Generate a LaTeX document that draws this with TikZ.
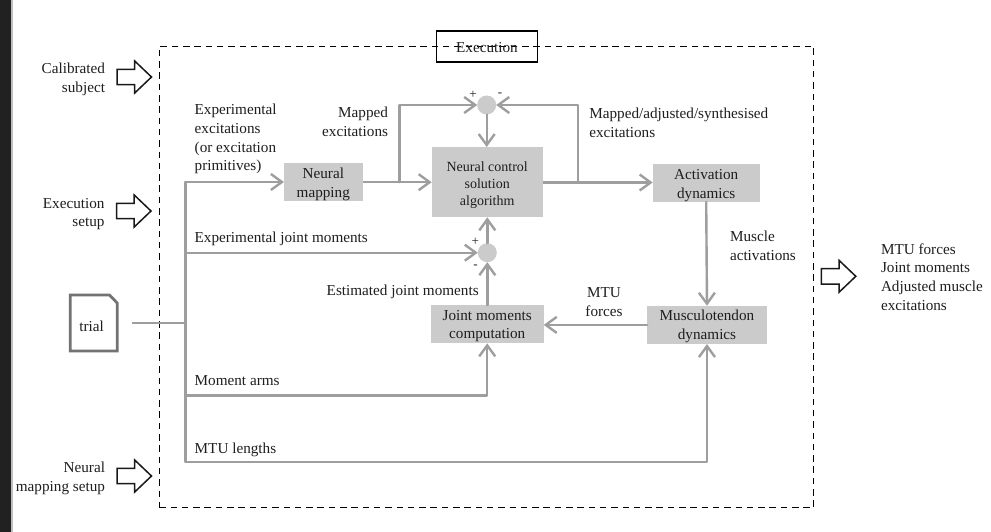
\documentclass[tikz,border=0pt]{standalone}
\usepackage{fontspec}
\setmainfont{Liberation Serif}
\usetikzlibrary{arrows.meta}
\definecolor{flow}{HTML}{9E9E9E}
\definecolor{boxfill}{HTML}{CBCBCB}
\definecolor{txt}{HTML}{1E1E1E}
\tikzset{
  x=1pt,y=-1pt,
  every node/.style={text=txt,inner sep=0pt,outer sep=0pt},
  lbl/.style={font=\fontsize{15.2}{18.8}\selectfont},
  lblL/.style={lbl,align=left,anchor=west},
  lblR/.style={lbl,align=right,anchor=east},
  lblC/.style={lbl,align=center},
  block/.style={fill=boxfill,lbl,align=center,minimum width=#1},
  blocktext/.style={lbl,align=center},
  sumdot/.style={circle,fill=boxfill,minimum size=19pt},
  sign/.style={font=\fontsize{13}{13}\selectfont},
  flowline/.style={draw=flow,line width=2.4pt,line cap=round,line join=round},
  flowarrow/.style={flowline,-{Straight Barb[length=11pt,width=16pt,line width=2.4pt]}},
  hollow/.style={draw=black!90,line width=1.5pt,fill=white,line join=miter},
}
\newcommand{\hollowarrow}[2]{%
  \draw[hollow] (#1,#2-7.7) -- ++(17.7,0) -- ++(0,-8.3) -- ++(16.8,16) -- ++(-16.8,16) -- ++(0,-8.3) -- ++(-17.7,0) -- cycle;}
\begin{document}
\begin{tikzpicture}
\useasboundingbox (0,0) rectangle (991,532);
\fill[white] (0,0) rectangle (991,532);
\fill[black!87] (0,0) rectangle (11,532);
\fill[black!25] (11,0) rectangle (12.5,532);

% dashed frame and title
\node[draw=black,line width=1.25pt,dash pattern=on 6.5pt off 4.8pt,minimum width=654.5pt,minimum height=461.5pt] (frame) at (486.5,277) {};
\node[draw=black,line width=1.4pt,minimum width=101pt,minimum height=31pt] (title) at (487,46.5) {};
\node[lbl] (titletext) at (487,47.5) {Execution};

% blocks
\node[block=78.7pt,minimum height=38pt] (nm) at (323.3,182.3) {};
\node[blocktext] (nmt) at (323.3,184) {Neural\\mapping};
\node[block=111pt,minimum height=70.3pt] (nc) at (487.2,182.2) {};
\node[align=center,font=\fontsize{14}{17}\selectfont] (nct) at (487.2,185) {Neural control\\solution\\algorithm};
\node[block=107pt,minimum height=38pt] (ad) at (706.2,183) {};
\node[blocktext] (adt) at (706.2,185.5) {Activation\\dynamics};
\node[block=113pt,minimum height=38.3pt] (jm) at (487.2,324.2) {};
\node[blocktext] (jmt) at (487.2,326) {Joint moments\\computation};
\node[block=119.4pt,minimum height=38.3pt] (md) at (707,324.9) {};
\node[blocktext] (mdt) at (707,326.7) {Musculotendon\\dynamics};
\node[sumdot] (s1) at (486.7,105) {};
\node[sumdot] (s2) at (487.3,252.7) {};

% trial document
\node[minimum width=47pt,minimum height=56pt] (trial) at (93.7,323) {};
\draw[draw=black!55,line width=2.8pt,line join=miter] (trial.north west) -- (109.5,295) -- (trial.east |- 0,303) -- (trial.south east) -- (trial.south west) -- cycle;
\node[lbl] (trialtext) at (91.7,326) {trial};

% junctions
\coordinate (bustop) at (185.5,182);
\coordinate (busjm) at (185.5,252.7);
\coordinate (bustrial) at (185.5,322.7);
\coordinate (busma) at (185.5,395.5);
\coordinate (busbot) at (185.5,461.7);
\coordinate (trialout) at (131.7,322.7);
\coordinate (b1) at (399.3,182.2);
\coordinate (b2) at (578,182.5);

% connectors
\draw[draw=flow,line width=1.7pt] (trialout) -- (bustrial);
\draw[flowline] (bustop) -- (busbot);
\draw[flowarrow] (bustop) -- (nm.west |- bustop);
\draw[flowarrow] (busjm) -- (s2.west);
\draw[flowarrow] (busma) -| (jm.south);
\draw[flowarrow] (busbot) -| (md.south);
\draw[flowline,line cap=butt] (nm.east |- b1) -- (b1);
\draw[flowarrow] (b1) -- (nc.west |- b1);
\draw[flowarrow] (b1) |- (s1.west);
\draw[flowline,line cap=butt] (nc.east |- b2) -- (b2);
\draw[flowarrow] (b2) -- (ad.west |- b2);
\draw[flowarrow] (b2) |- (s1.east);
\draw[flowarrow] (s1.south) -- (nc.north -| s1.south);
\draw[flowarrow] (s2.north) -- (nc.south -| s2.north);
\draw[flowarrow] (jm.north -| s2.south) -- (s2.south);
\draw[flowarrow] (ad.south) -- (md.north);
\draw[flowarrow] (md.west) -- (jm.east |- md.west);

% hollow arrows
\hollowarrow{117}{77}
\hollowarrow{116.5}{211}
\hollowarrow{117}{476}
\hollowarrow{821.3}{276.3}

% labels
\node[lblR] (l1) at (105,79) {Calibrated\\subject};
\node[lblR] (l2) at (104.5,214) {Execution\\setup};
\node[lblR] (l3) at (105,478.5) {Neural\\mapping setup};
\node[lblL] (l4) at (194.7,139) {Experimental\\excitations\\(or excitation\\primitives)};
\node[lblR] (l5) at (388,121.5) {Mapped\\excitations};
\node[lblL] (l6) at (589.3,122.5) {Mapped/adjusted/synthesised\\excitations};
\node[lblL] (l7) at (194.7,238.5) {Experimental joint moments};
\node[lblR] (l8) at (478.7,291.7) {Estimated joint moments};
\node[lblC] (l9) at (604,302) {MTU\\forces};
\node[lblL] (l10) at (730,245.5) {Muscle\\activations};
\node[lblL] (l11) at (881,277) {MTU forces\\Joint moments\\Adjusted muscle\\excitations};
\node[lblL] (l12) at (194.7,381) {Moment arms};
\node[lblL] (l13) at (194.7,449.5) {MTU lengths};
\node[sign] (p1) at (473,95) {+};
\node[sign] (m1) at (500,95) {-};
\node[sign] (p2) at (475.3,242.3) {+};
\node[sign] (m2) at (475.6,267) {-};
\end{tikzpicture}
\end{document}
